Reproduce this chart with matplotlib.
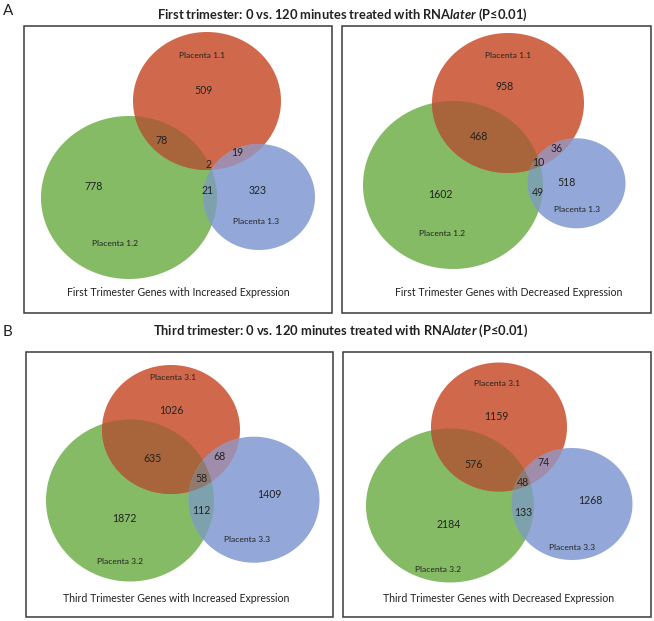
import numpy as np
import matplotlib.pyplot as plt
from matplotlib.patches import Polygon, Rectangle

plt.rcParams['font.family'] = ['Lato', 'DejaVu Sans']
plt.rcParams['mathtext.fontset'] = 'custom'
plt.rcParams['mathtext.rm'] = 'Lato:bold'
plt.rcParams['mathtext.it'] = 'Lato:italic:bold'

# === DATA ===
section_letters = ['A', 'B']
section_titles = [
    'First trimester: 0 vs. 120 minutes treated with RNA$\\mathit{later}$ (P\u22640.01)',
    'Third trimester: 0 vs. 120 minutes treated with RNA$\\mathit{later}$ (P\u22640.01)',
]
set_names_first = ['Placenta 1.1', 'Placenta 1.2', 'Placenta 1.3']
set_names_third = ['Placenta 3.1', 'Placenta 3.2', 'Placenta 3.3']
captions = [
    'First Trimester Genes with Increased Expression',
    'First Trimester Genes with Decreased Expression',
    'Third Trimester Genes with Increased Expression',
    'Third Trimester Genes with Decreased Expression',
]
# region order: only x.1, only x.2, only x.3, x.1&x.2, x.1&x.3, x.2&x.3, all three
first_increased = [509, 778, 323, 78, 19, 21, 2]
first_decreased = [958, 1602, 518, 468, 36, 49, 10]
third_increased = [1026, 1872, 1409, 635, 68, 112, 58]
third_decreased = [1159, 2184, 1268, 576, 74, 133, 48]

# === LAYOUT (pixels, y down) ===
# ellipses: (cx, cy, rx, ry) for x.1 (red), x.2 (green), x.3 (blue)
panels = [
    dict(box=(24, 26, 332, 313), counts=first_increased, names=set_names_first, caption=captions[0],
         ell=[(207, 101, 74, 69), (129, 197.5, 88, 81.5), (259, 197, 56, 53)],
         cpos=[(203, 91), (94, 187), (258, 191), (162, 141), (237, 152), (208, 190), (209, 165)],
         npos=[(202, 56), (115, 243), (256, 221)], cappos=(178, 293)),
    dict(box=(342, 26, 651, 313), counts=first_decreased, names=set_names_first, caption=captions[1],
         ell=[(508, 103, 76, 70), (453, 185, 90, 84), (576.5, 183.3, 49, 45)],
         cpos=[(505, 86), (440, 194), (567, 183), (479, 137), (557, 148), (538, 193), (538, 162)],
         npos=[(508, 56), (442, 233), (577, 210)], cappos=(509, 292)),
    dict(box=(26, 352, 333, 617), counts=third_increased, names=set_names_third, caption=captions[2],
         ell=[(171, 429.5, 69, 64.5), (130, 500.5, 84, 81), (254, 499.7, 65.5, 63)],
         cpos=[(171, 410), (124, 518), (269, 494), (153, 458), (219, 456), (201, 510), (201, 478)],
         npos=[(173, 377), (120, 562), (247, 540)], cappos=(176, 599)),
    dict(box=(343, 352, 651, 617), counts=third_decreased, names=set_names_third, caption=captions[3],
         ell=[(499, 427, 68, 64.5), (450, 505.5, 84, 77), (572, 504, 60.5, 56)],
         cpos=[(496, 416), (449, 525), (590, 501), (474, 465), (544, 463), (523, 513), (523, 482)],
         npos=[(497, 384), (438, 569), (572, 547)], cappos=(499, 599)),
]
title_pos = [(342, 15), (341, 331)]
letter_pos = [(3, 11), (3, 332)]

base_colors = ['#D0694B', '#86BB66', '#93A8D8']
pair_colors = {(0, 1): '#A8643A', (0, 2): '#A08DAB', (1, 2): '#7DA2AE'}
triple_color = '#8F7A72'
txt = '#222222'


def ellipse_pts(cx, cy, rx, ry, n=180):
    t = np.linspace(0, 2 * np.pi, n, endpoint=False)
    return [(cx + rx * np.cos(a), cy + ry * np.sin(a)) for a in t]


def clip(subject, clipper):
    # Sutherland-Hodgman, clipper convex and counter-clockwise
    def side(a, b, p):
        return (b[0] - a[0]) * (p[1] - a[1]) - (b[1] - a[1]) * (p[0] - a[0])

    def cross_pt(p, q, a, b):
        s1, s2 = side(a, b, p), side(a, b, q)
        f = s1 / (s1 - s2)
        return (p[0] + f * (q[0] - p[0]), p[1] + f * (q[1] - p[1]))

    out = subject
    for i in range(len(clipper)):
        a, b = clipper[i], clipper[(i + 1) % len(clipper)]
        inp, out = out, []
        if not inp:
            break
        for j in range(len(inp)):
            p, q = inp[j], inp[j - 1]
            p_in, q_in = side(a, b, p) >= 0, side(a, b, q) >= 0
            if p_in:
                if not q_in:
                    out.append(cross_pt(q, p, a, b))
                out.append(p)
            elif q_in:
                out.append(cross_pt(q, p, a, b))
    return out


fig = plt.figure(figsize=(6.54, 6.21), dpi=100)
ax = fig.add_axes([0, 0, 1, 1])
ax.set_xlim(0, 654)
ax.set_ylim(621, 0)
ax.axis('off')

for p in panels:
    x0, y0, x1, y1 = p['box']
    ax.add_patch(Rectangle((x0, y0), x1 - x0, y1 - y0, fill=False, ec='#3a3a3a', lw=1.1, zorder=5))
    shapes = [ellipse_pts(*e) for e in p['ell']]
    for k in (1, 0, 2):
        ax.add_patch(Polygon(shapes[k], closed=True, fc=base_colors[k], ec='none', zorder=1))
    for (i, j), col in pair_colors.items():
        reg = clip(shapes[i], shapes[j])
        if len(reg) > 2:
            ax.add_patch(Polygon(reg, closed=True, fc=col, ec='none', zorder=2))
    reg = clip(clip(shapes[0], shapes[1]), shapes[2])
    if len(reg) > 2:
        ax.add_patch(Polygon(reg, closed=True, fc=triple_color, ec='none', zorder=3))
    for val, (x, y) in zip(p['counts'], p['cpos']):
        ax.text(x, y, str(val), ha='center', va='center', fontsize=7.6, color=txt, zorder=6)
    for name, (x, y) in zip(p['names'], p['npos']):
        ax.text(x, y, name, ha='center', va='center', fontsize=6.1, color=txt, zorder=6)
    ax.text(*p['cappos'], p['caption'], ha='center', va='center', fontsize=7.6, color=txt, zorder=6)

for letter, title, (lx, ly), (tx, ty) in zip(section_letters, section_titles, letter_pos, title_pos):
    ax.text(lx, ly, letter, ha='left', va='center', fontsize=11, color=txt)
    ax.text(tx, ty, title, ha='center', va='center', fontsize=9.3, fontweight='bold', color=txt)

fig.savefig('out.png', dpi=100)
